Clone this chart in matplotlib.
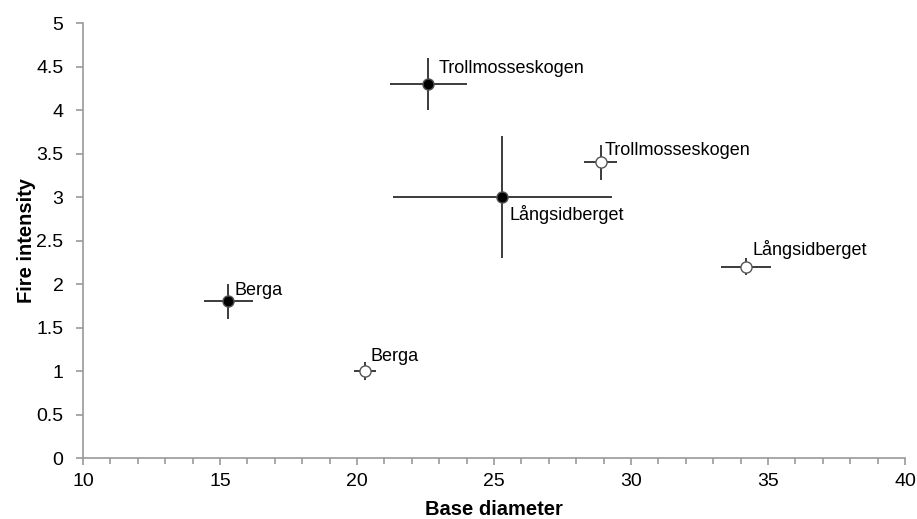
import matplotlib
matplotlib.use("Agg")
import matplotlib.pyplot as plt
from matplotlib.ticker import MultipleLocator

plt.rcParams["font.family"] = ["Liberation Sans", "DejaVu Sans"]

# two groups of sites: filled and open markers
sites = ["Trollmosseskogen", "Långsidberget", "Berga"]
filled_x = [22.6, 25.3, 15.3]
filled_y = [4.3, 3.0, 1.8]
filled_xerr = [1.4, 4.0, 0.9]
filled_yerr = [0.3, 0.7, 0.2]

open_x = [28.9, 34.2, 20.3]
open_y = [3.4, 2.2, 1.0]
open_xerr = [0.6, 0.9, 0.4]
open_yerr = [0.2, 0.1, 0.1]

# label offsets in pixels
filled_off = [(10, 15), (7, -17), (6, 11)]
open_off = [(4, 12), (6, 17), (5, 15)]

fig = plt.figure(figsize=(9.17, 5.19), dpi=100)
ax = fig.add_axes([0.0905, 0.1175, 0.8965, 0.838])

ax.errorbar(filled_x, filled_y, xerr=filled_xerr, yerr=filled_yerr, fmt="none",
            ecolor="#1a1a1a", elinewidth=1.2, capsize=0, zorder=2)
ax.plot(filled_x, filled_y, "o", ms=8, mfc="black", mec="#555555", mew=1, zorder=3)

ax.errorbar(open_x, open_y, xerr=open_xerr, yerr=open_yerr, fmt="none",
            ecolor="#1a1a1a", elinewidth=1.2, capsize=0, zorder=2)
ax.plot(open_x, open_y, "o", ms=8, mfc="white", mec="#555555", mew=1, zorder=3)

for name, x, y, off in zip(sites, filled_x, filled_y, filled_off):
    ax.annotate(name, (x, y), xytext=off, textcoords="offset pixels",
                fontsize=13, va="center", ha="left")
for name, x, y, off in zip(sites, open_x, open_y, open_off):
    ax.annotate(name, (x, y), xytext=off, textcoords="offset pixels",
                fontsize=13, va="center", ha="left")

ax.set_xlim(10, 40)
ax.set_ylim(0, 5)
ax.xaxis.set_major_locator(MultipleLocator(5))
ax.xaxis.set_minor_locator(MultipleLocator(1))
ax.yaxis.set_major_locator(MultipleLocator(0.5))
ax.yaxis.set_major_formatter(matplotlib.ticker.FuncFormatter(lambda v, p: f"{v:g}"))

for s in ["top", "right"]:
    ax.spines[s].set_visible(False)
for s in ["left", "bottom"]:
    ax.spines[s].set_color("#999999")
    ax.spines[s].set_linewidth(1.2)
ax.tick_params(which="both", direction="out", color="#999999", width=1.2)
ax.tick_params(which="major", length=5, labelsize=14)
ax.tick_params(axis="x", which="major", pad=6)
ax.tick_params(axis="y", which="major", pad=9)
ax.tick_params(which="minor", length=4)

ax.set_xlabel("Base diameter", fontsize=14.5, fontweight="bold", labelpad=7)
ax.set_ylabel("Fire intensity", fontsize=14.5, fontweight="bold", labelpad=0)

fig.savefig("out.png", dpi=100)
